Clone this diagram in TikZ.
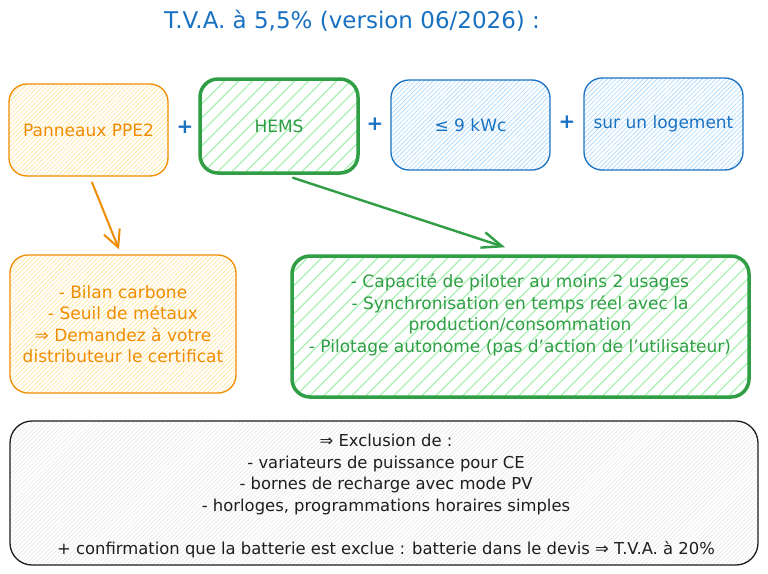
\documentclass[tikz,border=0pt]{standalone}
\usepackage{fontspec}
\setmainfont{DejaVu Sans}
\usetikzlibrary{patterns.meta,arrows.meta,calc}
\definecolor{ora}{HTML}{F08C00}
\definecolor{oraf}{HTML}{FFE49A}
\definecolor{grn}{HTML}{2F9E44}
\definecolor{grnf}{HTML}{B2F2BB}
\definecolor{blu}{HTML}{1971C2}
\definecolor{bluf}{HTML}{A5D8FF}
\definecolor{ink}{HTML}{1E1E1E}
\definecolor{grayf}{HTML}{E2E4E7}
\tikzset{
  box/.style={draw, rounded corners=18pt, inner sep=0pt, align=center,
    font=\fontsize{17}{21.5}\selectfont},
  orabox/.style={box, draw=ora, line width=1.3pt, text=ora,
    pattern={Lines[angle=45,distance=3.2pt,line width=0.6pt]}, pattern color=oraf},
  grnbox/.style={box, draw=grn, line width=3.5pt, text=grn,
    pattern={Lines[angle=45,distance=10.5pt,line width=1.6pt]}, pattern color=grnf},
  blubox/.style={box, draw=blu, line width=1.3pt, text=blu,
    pattern={Lines[angle=45,distance=3.2pt,line width=0.6pt]}, pattern color=bluf},
  graybox/.style={box, draw=ink, line width=1.3pt, rounded corners=22pt,
    pattern={Lines[angle=45,distance=3pt,line width=0.5pt]}, pattern color=grayf},
  plus/.style={text=blu, font=\bfseries\fontsize{20}{20}\selectfont, inner sep=0pt},
  oarrow/.style={draw=ora, line width=2pt, line cap=round,
    -{Straight Barb[length=17pt,width=17pt,line width=2pt]}},
  garrow/.style={draw=grn, line width=2.4pt, line cap=round,
    -{Straight Barb[length=20pt,width=16pt,line width=2.4pt]}},
}
\begin{document}
\begin{tikzpicture}[x=1pt,y=-1pt]
\useasboundingbox (0,0) rectangle (768,573);
\fill[white] (0,0) rectangle (768,573);

\node[text=blu, font=\fontsize{23}{27}\selectfont] (title) at (352,21) {T.V.A. à 5,5\% (version 06/2026) :};

\node[orabox, minimum width=159pt, minimum height=92pt] (pan) at (88.5,130) {Panneaux PPE2};
\node[grnbox, minimum width=158pt, minimum height=94pt] (hems) at (279,126) {HEMS};
\node[blubox, minimum width=159pt, minimum height=90pt] (kwc) at (470.5,125) {≤ 9 kWc};
\node[blubox, minimum width=159pt, minimum height=92pt] (log) at (663.5,124) {sur un logement};

\node[plus] (p1) at (185,127) {+};
\node[plus] (p2) at (375,124) {+};
\node[plus] (p3) at (567,122) {+};

\node[orabox, minimum width=226pt, minimum height=138pt] (bilan) at (123,324)
  {- Bilan carbone\\- Seuil de métaux\\⇒ Demandez à votre\\distributeur le certificat};

\node[grnbox, minimum width=457pt, minimum height=141pt] (cap) at (520.5,326.5) {};
\node[text=grn, align=center, font=\fontsize{17}{21.5}\selectfont, inner sep=0pt] (captext) at (520,315)
  {- Capacité de piloter au moins 2 usages\\- Synchronisation en temps réel avec la\\production/consommation\\- Pilotage autonome (pas d'action de l'utilisateur)};

\node[graybox, minimum width=748pt, minimum height=144pt] (excl) at (384,493) {};
\node[text=ink, align=center, font=\fontsize{16.4}{21.5}\selectfont, inner sep=0pt] (excltext) at (386,496)
  {⇒ Exclusion de :\\- variateurs de puissance pour CE\\- bornes de recharge avec mode PV\\- horloges, programmations horaires simples\\[21.5pt]+ confirmation que la batterie est exclue : batterie dans le devis ⇒ T.V.A. à 20\%};

\draw[oarrow] ($(pan.south)+(3.5,6)$) -- ($(bilan.north)+(-4,-5)$);
\draw[garrow] ($(hems.south)+(14,4)$) -- ($(cap.north)+(-15.5,-7)$);
\end{tikzpicture}
\end{document}
